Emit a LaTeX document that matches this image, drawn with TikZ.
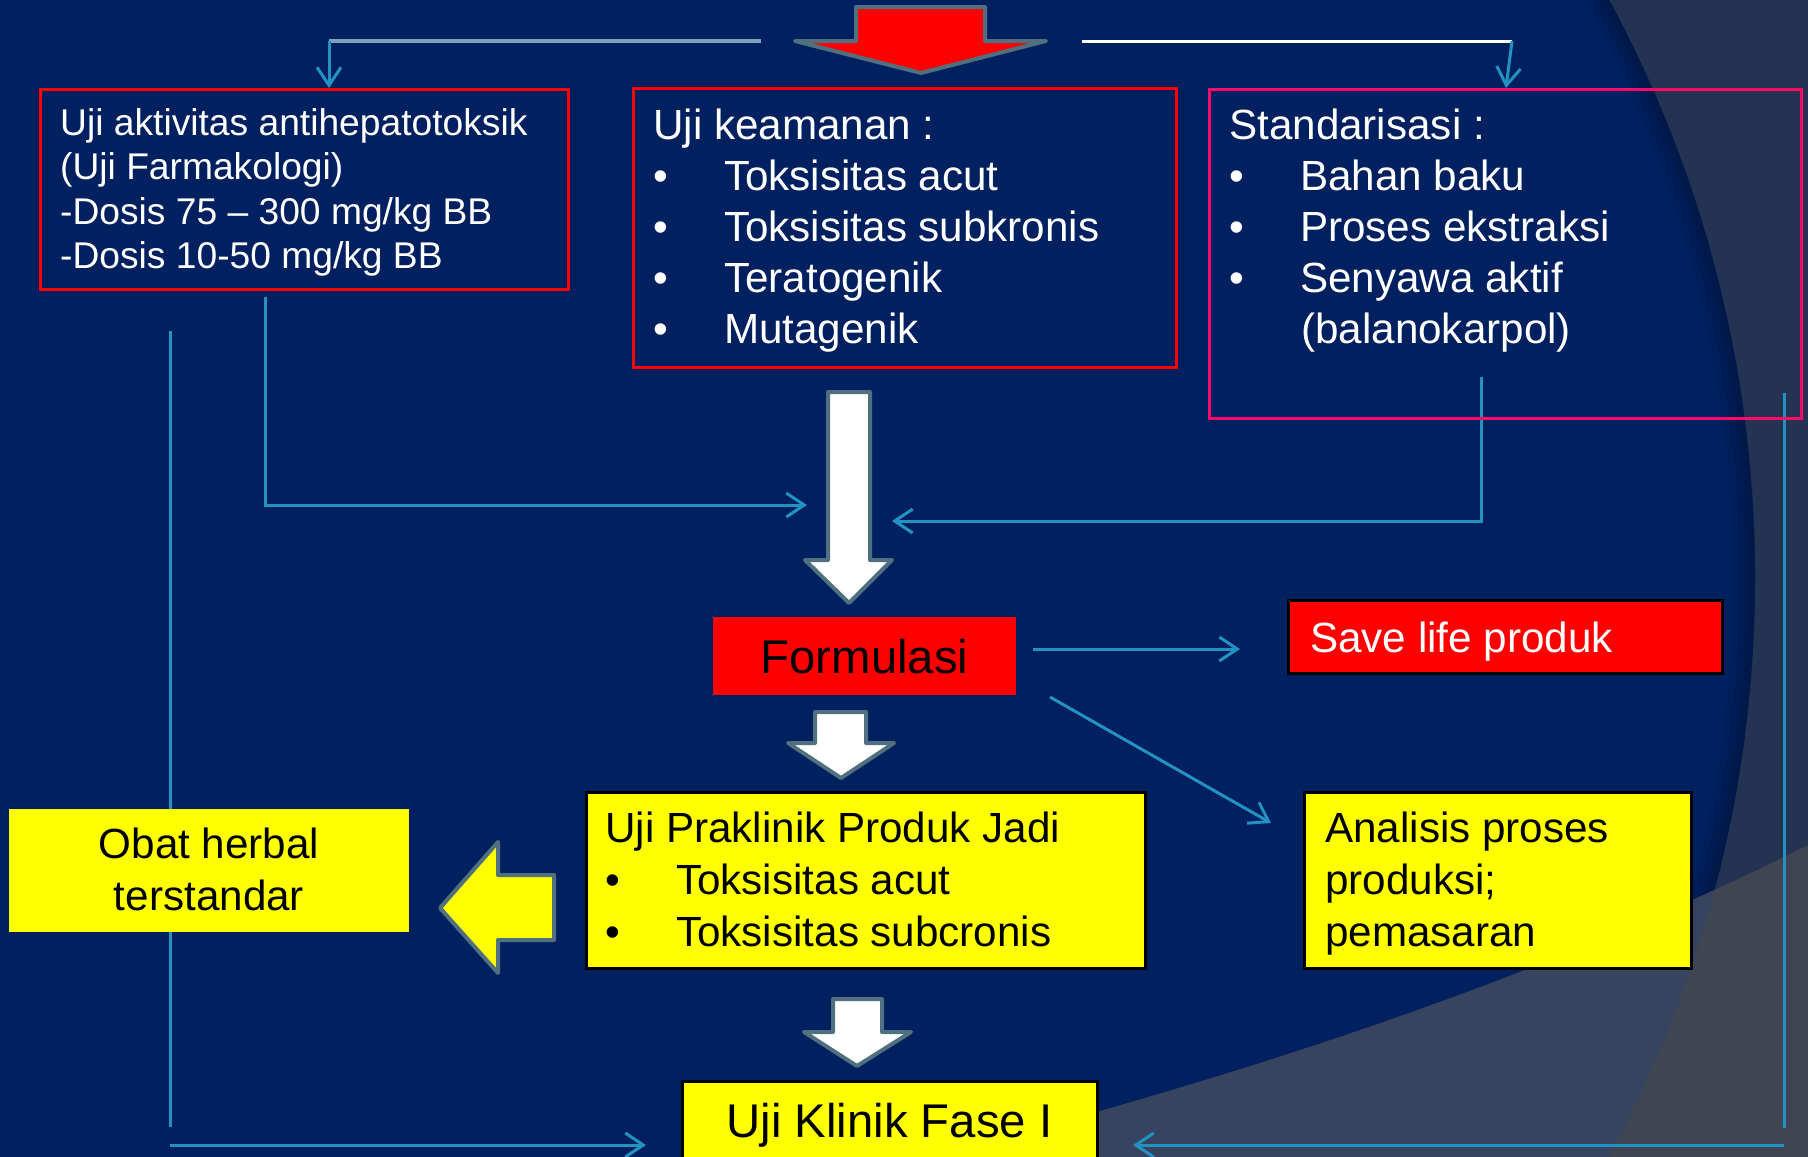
\documentclass[tikz,border=0pt]{standalone}
\usepackage{fontspec}
\setmainfont{Liberation Sans}
\usetikzlibrary{arrows.meta}
\definecolor{navy}{HTML}{00205F}
\definecolor{slate}{HTML}{243352}
\definecolor{greyA}{HTML}{37445F}
\definecolor{greyB}{HTML}{404552}
\definecolor{tealc}{HTML}{2391C2}
\definecolor{steel}{HTML}{7BA3BC}
\definecolor{outl}{HTML}{50707F}
\definecolor{pinkb}{HTML}{FF0A68}
\definecolor{yel}{HTML}{FFFF00}
\newcommand{\bul}{\makebox[71pt][l]{•}}
\begin{document}
\begin{tikzpicture}[x=1pt,y=-1pt,
  conn/.style={draw=tealc, line width=3pt},
  arr/.style={conn, -{Straight Barb[length=18pt,width=24pt]}},
  box/.style={rectangle, inner sep=0pt, line width=3pt},
  blockarrow/.style={draw=outl, line width=4pt, line join=round},
  tA/.style={font=\fontsize{37.2}{44.5}\selectfont, inner sep=0pt, anchor=base west, text=white},
  tB/.style={font=\fontsize{42.2}{51}\selectfont, inner sep=0pt, anchor=base west},
  tC/.style={font=\fontsize{47.3}{56}\selectfont, inner sep=0pt, anchor=base, text=black}]
\useasboundingbox (0,0) rectangle (1808,1157);
\begin{scope}
\clip (0,0) rectangle (1808,1157);
% background
\fill[slate] (0,0) rectangle (1808,1157);
\fill[navy] (538,578) circle[radius=1217];
\begin{scope}
\clip (538,578) circle[radius=1217];
\foreach \w/\o in {44/0.05, 30/0.07, 16/0.10}
  \draw[line width=\w pt, black, opacity=\o] (538,578) circle[radius=1217];
\end{scope}
\fill[greyB] (930,1157) .. controls (1250,1075) and (1550,975) .. (1808,845) -- (1808,1157) -- cycle;
\begin{scope}
\clip (538,578) circle[radius=1217];
\fill[greyA] (930,1157) .. controls (1250,1075) and (1550,975) .. (1808,845) -- (1808,1157) -- cycle;
\end{scope}

% connectors (drawn first, boxes lie over them)
\coordinate (tl0) at (761,41); \coordinate (tl1) at (329,41); \coordinate (tl2) at (329,88);
\coordinate (tr0) at (1082,41); \coordinate (tr1) at (1512,41); \coordinate (tr2) at (1506,88);
\draw[steel, line width=4pt] (tl0) -- (tl1);
\draw[arr] (tl1) -- (tl2);
\draw[white, line width=3pt] (tr0) -- (tr1);
\draw[arr] (tr1) -- (tr2);

\coordinate (l1a) at (265,297); \coordinate (l1b) at (265,505); \coordinate (l1c) at (807,505);
\draw[arr] (l1a) -- (l1b) -- (l1c);
\coordinate (r1a) at (1481,377); \coordinate (r1b) at (1481,521); \coordinate (r1c) at (892,521);
\draw[arr] (r1a) -- (r1b) -- (r1c);

\coordinate (lv0) at (170,331); \coordinate (lv1) at (170,1127);
\coordinate (lh0) at (170,1145); \coordinate (lh1) at (646,1145);
\draw[conn] (lv0) -- (lv1);
\draw[arr] (lh0) -- (lh1);
\coordinate (rv0) at (1784,393); \coordinate (rv1) at (1784,1128);
\coordinate (rh0) at (1784,1145); \coordinate (rh1) at (1133,1145);
\draw[conn] (rv0) -- (rv1);
\draw[arr] (rh0) -- (rh1);

\coordinate (fs0) at (1033,649); \coordinate (fs1) at (1240,649);
\draw[arr] (fs0) -- (fs1);
\coordinate (fd0) at (1050,697); \coordinate (fd1) at (1271,823);
\draw[arr] (fd0) -- (fd1);

% boxes
\node[box, draw=red, minimum width=528pt, minimum height=200pt] (b1) at (304,189) {};
\node[box, draw=red, minimum width=543pt, minimum height=279pt] (b2) at (904.5,227.5) {};
\node[box, draw=pinkb, minimum width=592pt, minimum height=329pt] (b3) at (1505,253.5) {};
\node[box, fill=red, minimum width=303pt, minimum height=78pt] (form) at (864.5,656) {};
\node[box, fill=red, draw=black, minimum width=434pt, minimum height=73pt] (save) at (1505,636.5) {};
\node[box, fill=yel, draw=black, minimum width=559pt, minimum height=176pt] (prak) at (865.5,880) {};
\node[box, fill=yel, draw=black, minimum width=387pt, minimum height=176pt] (anal) at (1497.5,880) {};
\node[box, fill=yel, minimum width=400pt, minimum height=123pt] (obat) at (209,870.5) {};
\node[box, fill=yel, draw=black, minimum width=415pt, minimum height=109pt] (klin) at (889.5,1135.5) {};

% block arrows
\filldraw[blockarrow, fill=red] (856,7) -- (985,7) -- (985,41) -- (1046,41) -- (921,73) -- (795,41) -- (856,41) -- cycle;
\filldraw[blockarrow, fill=white] (828,392) -- (870,392) -- (870,560) -- (892,560) -- (849,603) -- (805,560) -- (828,560) -- cycle;
\filldraw[blockarrow, fill=white] (815,712) -- (866,712) -- (866,743) -- (894,743) -- (841,778) -- (788,743) -- (815,743) -- cycle;
\filldraw[blockarrow, fill=white] (833,999) -- (882,999) -- (882,1032) -- (911,1032) -- (857,1066) -- (804,1032) -- (833,1032) -- cycle;
\filldraw[blockarrow, fill=yel] (554,875) -- (554,940) -- (498,940) -- (498,973) -- (440,908) -- (498,842) -- (498,875) -- cycle;

% texts
\node[tA] (b1t1) at (60,135) {Uji aktivitas antihepatotoksik};
\node[tA] (b1t2) at (60,179.5) {(Uji Farmakologi)};
\node[tA] (b1t3) at (60,224) {-Dosis 75 – 300 mg/kg BB};
\node[tA] (b1t4) at (60,268.5) {-Dosis 10-50 mg/kg BB};

\node[tB, text=white] (b2t1) at (653,139) {Uji keamanan :};
\node[tB, text=white] (b2t2) at (653,190) {\bul Toksisitas acut};
\node[tB, text=white] (b2t3) at (653,241.5) {\bul Toksisitas subkronis};
\node[tB, text=white] (b2t4) at (653,292.5) {\bul Teratogenik};
\node[tB, text=white] (b2t5) at (653,343.5) {\bul Mutagenik};

\node[tB, text=white] (b3t1) at (1229,139) {Standarisasi :};
\node[tB, text=white] (b3t2) at (1229,190) {\bul Bahan baku};
\node[tB, text=white] (b3t3) at (1229,241.5) {\bul Proses ekstraksi};
\node[tB, text=white] (b3t4) at (1229,292.5) {\bul Senyawa aktif};
\node[tB, text=white] (b3t5) at (1301,343.5) {(balanokarpol)};

\node[tC] (formt) at (864.5,673) {Formulasi};
\node[tB, text=white] (savet) at (1310,652) {Save life produk};

\node[tB, text=black] (prt1) at (605,842) {Uji Praklinik Produk Jadi};
\node[tB, text=black] (prt2) at (605,894) {\bul Toksisitas acut};
\node[tB, text=black] (prt3) at (605,946) {\bul Toksisitas subcronis};

\node[tB, text=black] (ant1) at (1325,842) {Analisis proses};
\node[tB, text=black] (ant2) at (1325,894) {produksi;};
\node[tB, text=black] (ant3) at (1325,946) {pemasaran};

\node[tB, text=black, anchor=base] (obt1) at (209,858) {Obat herbal};
\node[tB, text=black, anchor=base] (obt2) at (209,910) {terstandar};

\node[tC] (klint) at (889.5,1137) {Uji Klinik Fase I};
\end{scope}
\end{tikzpicture}
\end{document}
